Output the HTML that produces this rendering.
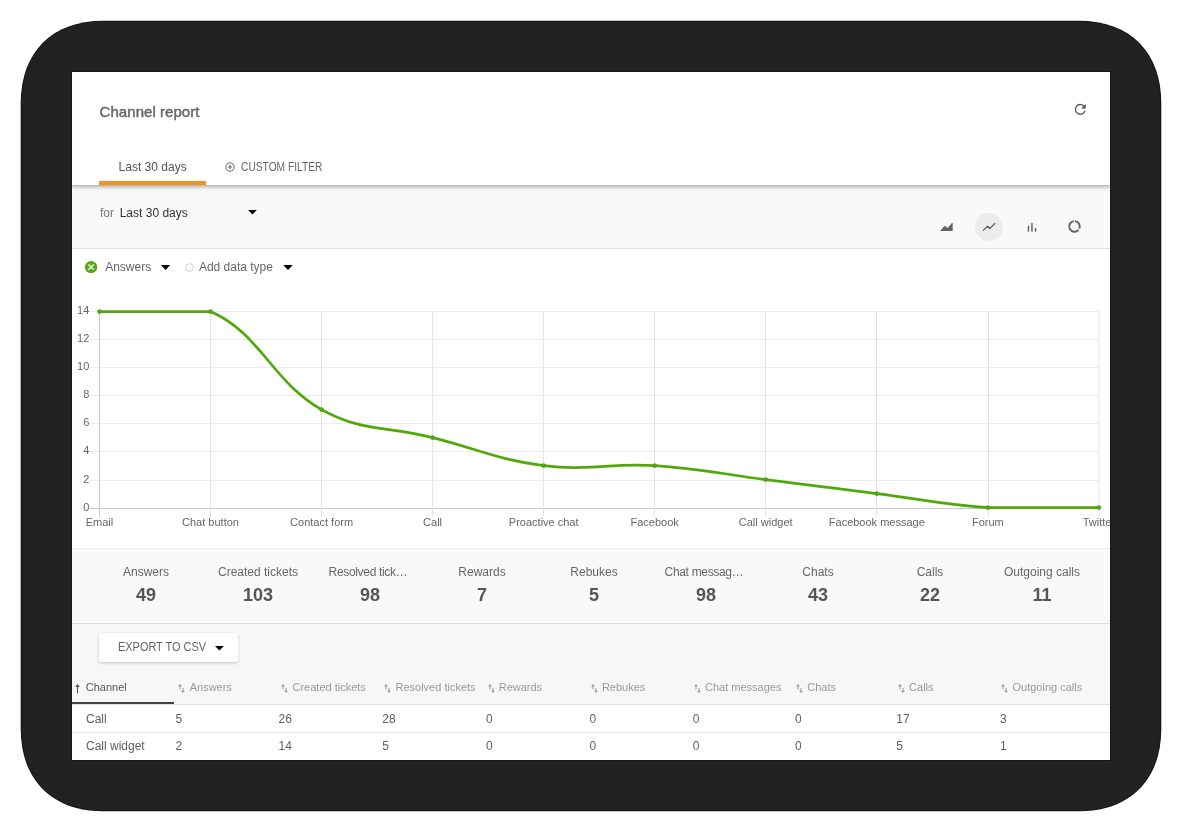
<!DOCTYPE html>
<html><head><meta charset="utf-8">
<style>
*{box-sizing:border-box;margin:0;padding:0}
html,body{width:1182px;height:832px;background:#fff;overflow:hidden;font-family:"Liberation Sans",sans-serif}
#screen{position:absolute;left:72px;top:72px;width:1038px;height:688px;background:#fff;overflow:hidden;will-change:transform}
.a{position:absolute;white-space:nowrap;line-height:1}
#hdr{position:absolute;left:0;top:0;width:1038px;height:113px;background:#fff;z-index:2;box-shadow:0 1px 0 rgba(0,0,0,.04), 0 2px 4px rgba(0,0,0,.3)}
#title{left:27.6px;top:32px;font-size:15px;color:#666;-webkit-text-stroke:0.45px #666;letter-spacing:0.05px}
#tab1{left:46.6px;top:89px;font-size:12px;color:#555}
#tabline{position:absolute;left:27px;top:109px;width:107px;height:4px;background:#f5901a}
#tab2{left:168.6px;top:88.8px;font-size:12px;color:#666;transform:scaleX(0.852);transform-origin:0 0}
#filt{position:absolute;left:0;top:113px;width:1038px;height:64px;background:#f9f9f9;border-bottom:1px solid #e0e0e0}
#stats{position:absolute;left:0;top:476px;width:1038px;height:76px;background:#f9f9f9;border-top:1px solid #ebebeb;border-bottom:1px solid #dcdcdc;box-shadow:inset 0 -1px 0 #fdfdfd}
#lower{position:absolute;left:0;top:552px;width:1038px;height:81px;background:#f7f7f7;border-bottom:1px solid #e0e0e0}
.sl{position:absolute;width:112px;text-align:center;font-size:12px;color:#666;top:492px;padding:0 15px;overflow:hidden;text-overflow:ellipsis;white-space:nowrap;line-height:16px}
.sv{position:absolute;width:112px;text-align:center;font-size:18px;font-weight:bold;color:#555;top:514px;line-height:18px}
#btn{position:absolute;left:27px;top:561px;width:139px;height:29px;background:#fff;border-radius:2px;box-shadow:0 1px 3px rgba(0,0,0,.2)}
.th{position:absolute;top:610px;font-size:11px;color:#999;line-height:11px;white-space:nowrap}
.td{position:absolute;font-size:12px;color:#606060;line-height:12px;white-space:nowrap}
.tri{position:absolute;width:0;height:0;border-left:4.5px solid transparent;border-right:4.5px solid transparent;border-top:5px solid #111}
</style></head><body>
<svg id="frame" style="position:absolute;left:0;top:0" width="1182" height="832" viewBox="0 0 1182 832"><path d="M103.20,20.70 H1078.80 C1129.95,20.70 1161.30,52.05 1161.30,103.20 V728.80 C1161.30,779.95 1129.95,811.30 1078.80,811.30 H103.20 C52.05,811.30 20.70,779.95 20.70,728.80 V103.20 C20.70,52.05 52.05,20.70 103.20,20.70 Z" fill="#151515"/><path d="M103.20,21.70 H1078.80 C1129.33,21.70 1160.30,52.67 1160.30,103.20 V728.80 C1160.30,779.33 1129.33,810.30 1078.80,810.30 H103.20 C52.67,810.30 21.70,779.33 21.70,728.80 V103.20 C21.70,52.67 52.67,21.70 103.20,21.70 Z" fill="#222"/><rect x="71" y="71" width="1040" height="690" fill="#151515"/></svg>
<div id="screen">
  <div id="hdr">
    <div class="a" id="title">Channel report</div>
    <svg style="position:absolute;left:1000.4px;top:29.2px" width="16.6" height="16.6" viewBox="0 0 24 24"><path fill="#555" d="M17.65 6.35A7.958 7.958 0 0 0 12 4a8 8 0 1 0 7.73 10h-2.08A6 6 0 1 1 12 6c1.66 0 3.14.69 4.22 1.78L13 11h7V4l-2.35 2.35z"/></svg>
    <div class="a" id="tab1">Last 30 days</div>
    <div id="tabline"></div>
    <svg style="position:absolute;left:152.5px;top:89.5px" width="10" height="10" viewBox="0 0 10 10"><circle cx="5" cy="5" r="4.2" fill="none" stroke="#666" stroke-width="1"/><path d="M2.8 5 H7.2 M5 2.8 V7.2" stroke="#666" stroke-width="1.1"/></svg>
    <div class="a" id="tab2">CUSTOM FILTER</div>
  </div>
  <div id="filt"></div>
  <div class="a" style="left:27.9px;top:135.3px;font-size:12px;color:#777">for</div>
  <div class="a" style="left:47.7px;top:135.3px;font-size:12px;color:#333">Last 30 days</div>
  <!-- chart type icons -->
  <svg style="position:absolute;left:860px;top:140px" width="160" height="30" viewBox="0 0 160 30">
    <path d="M8.1 19.1 L12.6 13.8 L15.7 16.1 L19.9 11.1 L20.7 11.1 L20.7 19.1 Z" fill="#636363"/>
    <circle cx="57" cy="15" r="13.9" fill="#ececec"/>
    <path d="M51.3 18.4 L55.6 14.2 L57.9 16.5 L62.9 11.4" fill="none" stroke="#636363" stroke-width="1.3" stroke-linecap="round" stroke-linejoin="round"/>
    <rect x="95.7" y="13.7" width="1.5" height="5.9" fill="#636363"/>
    <rect x="99.2" y="11" width="1.5" height="8.6" fill="#636363"/>
    <rect x="102.8" y="16" width="1.5" height="3.6" fill="#636363"/>
    <g fill="none" stroke="#636363" stroke-width="2">
    <path d="M143.0 9.13 A5.3 5.3 0 0 1 147.29 16.56"/>
    <path d="M146.51 17.81 A5.3 5.3 0 1 1 141.9 9.13"/>
    </g>
  </svg>
  <!-- legend -->
  <svg style="position:absolute;left:12.9px;top:188.9px" width="13" height="13" viewBox="0 0 13 13"><circle cx="6.1" cy="6.15" r="6.15" fill="#55ab12"/><path d="M3.4 3.5 L8.8 8.8 M8.8 3.5 L3.4 8.8" stroke="#fff" stroke-width="1.25"/></svg>
  <div class="a" style="left:33.2px;top:189px;font-size:12px;color:#666">Answers</div>
  <svg style="position:absolute;left:112.5px;top:191px" width="9" height="9" viewBox="0 0 9 9"><circle cx="4.5" cy="4.5" r="3.9" fill="#fff" stroke="#ccc" stroke-width="0.9"/></svg>
  <div class="a" style="left:126.9px;top:189px;font-size:12px;color:#666">Add data type</div>
  <!-- chart -->
  <svg id="chart" style="position:absolute;left:-72px;top:-72px" width="1182" height="832" viewBox="0 0 1182 832">
    <line x1="89.5" y1="508.5" x2="1098.9" y2="508.5" stroke="#c9c9c9" stroke-width="1"/>
<text x="89.3" y="510.7" text-anchor="end" font-size="11" fill="#666">0</text>
<line x1="89.5" y1="480.5" x2="1098.9" y2="480.5" stroke="#ececec" stroke-width="1"/>
<text x="89.3" y="482.7" text-anchor="end" font-size="11" fill="#666">2</text>
<line x1="89.5" y1="451.5" x2="1098.9" y2="451.5" stroke="#ececec" stroke-width="1"/>
<text x="89.3" y="453.7" text-anchor="end" font-size="11" fill="#666">4</text>
<line x1="89.5" y1="423.5" x2="1098.9" y2="423.5" stroke="#ececec" stroke-width="1"/>
<text x="89.3" y="425.7" text-anchor="end" font-size="11" fill="#666">6</text>
<line x1="89.5" y1="395.5" x2="1098.9" y2="395.5" stroke="#ececec" stroke-width="1"/>
<text x="89.3" y="397.7" text-anchor="end" font-size="11" fill="#666">8</text>
<line x1="89.5" y1="367.5" x2="1098.9" y2="367.5" stroke="#ececec" stroke-width="1"/>
<text x="89.3" y="369.7" text-anchor="end" font-size="11" fill="#666">10</text>
<line x1="89.5" y1="339.5" x2="1098.9" y2="339.5" stroke="#ececec" stroke-width="1"/>
<text x="89.3" y="341.7" text-anchor="end" font-size="11" fill="#666">12</text>
<line x1="89.5" y1="311.5" x2="1098.9" y2="311.5" stroke="#ececec" stroke-width="1"/>
<text x="89.3" y="313.7" text-anchor="end" font-size="11" fill="#666">14</text>
<line x1="99.50" y1="311" x2="99.50" y2="517" stroke="#c9c9c9" stroke-width="1"/>
<text x="99.5" y="525.6" text-anchor="middle" font-size="11" fill="#666">Email</text>
<line x1="210.50" y1="311" x2="210.50" y2="517" stroke="#e4e4e4" stroke-width="1"/>
<text x="210.5" y="525.6" text-anchor="middle" font-size="11" fill="#666">Chat button</text>
<line x1="321.50" y1="311" x2="321.50" y2="517" stroke="#e4e4e4" stroke-width="1"/>
<text x="321.6" y="525.6" text-anchor="middle" font-size="11" fill="#666">Contact form</text>
<line x1="432.50" y1="311" x2="432.50" y2="517" stroke="#e4e4e4" stroke-width="1"/>
<text x="432.6" y="525.6" text-anchor="middle" font-size="11" fill="#666">Call</text>
<line x1="543.50" y1="311" x2="543.50" y2="517" stroke="#e4e4e4" stroke-width="1"/>
<text x="543.7" y="525.6" text-anchor="middle" font-size="11" fill="#666">Proactive chat</text>
<line x1="654.50" y1="311" x2="654.50" y2="517" stroke="#e4e4e4" stroke-width="1"/>
<text x="654.7" y="525.6" text-anchor="middle" font-size="11" fill="#666">Facebook</text>
<line x1="765.50" y1="311" x2="765.50" y2="517" stroke="#e4e4e4" stroke-width="1"/>
<text x="765.7" y="525.6" text-anchor="middle" font-size="11" fill="#666">Call widget</text>
<line x1="876.50" y1="311" x2="876.50" y2="517" stroke="#e4e4e4" stroke-width="1"/>
<text x="876.8" y="525.6" text-anchor="middle" font-size="11" fill="#666">Facebook message</text>
<line x1="988.50" y1="311" x2="988.50" y2="517" stroke="#e4e4e4" stroke-width="1"/>
<text x="987.8" y="525.6" text-anchor="middle" font-size="11" fill="#666">Forum</text>
<line x1="1098.90" y1="311" x2="1098.90" y2="517" stroke="#e4e4e4" stroke-width="1"/>
<text x="1098.9" y="525.6" text-anchor="middle" font-size="11" fill="#666">Twitter</text>
<path d="M99.50,311.60 C99.50,311.60 172.48,311.60 210.54,311.60 C261.31,334.00 271.48,381.18 321.58,409.60 C360.32,431.58 388.20,426.40 432.62,437.60 C477.04,448.80 498.56,459.91 543.66,465.60 C587.39,471.11 610.46,462.81 654.70,465.60 C699.29,468.41 721.32,474.00 765.74,479.60 C810.16,485.20 832.36,488.00 876.78,493.60 C921.20,499.20 943.23,504.79 987.82,507.60 C1032.06,507.60 1098.86,507.60 1098.86,507.60" fill="none" stroke="#51a80b" stroke-width="2.7"/>
<circle cx="99.50" cy="311.60" r="1.9" fill="#56ad10" stroke="#4a9612" stroke-width="0.9"/>
<circle cx="210.54" cy="311.60" r="1.9" fill="#56ad10" stroke="#4a9612" stroke-width="0.9"/>
<circle cx="321.58" cy="409.60" r="1.9" fill="#56ad10" stroke="#4a9612" stroke-width="0.9"/>
<circle cx="432.62" cy="437.60" r="1.9" fill="#56ad10" stroke="#4a9612" stroke-width="0.9"/>
<circle cx="543.66" cy="465.60" r="1.9" fill="#56ad10" stroke="#4a9612" stroke-width="0.9"/>
<circle cx="654.70" cy="465.60" r="1.9" fill="#56ad10" stroke="#4a9612" stroke-width="0.9"/>
<circle cx="765.74" cy="479.60" r="1.9" fill="#56ad10" stroke="#4a9612" stroke-width="0.9"/>
<circle cx="876.78" cy="493.60" r="1.9" fill="#56ad10" stroke="#4a9612" stroke-width="0.9"/>
<circle cx="987.82" cy="507.60" r="1.9" fill="#56ad10" stroke="#4a9612" stroke-width="0.9"/>
<circle cx="1098.86" cy="507.60" r="1.9" fill="#56ad10" stroke="#4a9612" stroke-width="0.9"/>
  </svg>
  <!-- stats -->
  <div id="stats"></div>
  <div class="sl" style="left:18px">Answers</div>
<div class="sv" style="left:18px">49</div>
<div class="sl" style="left:130px">Created tickets</div>
<div class="sv" style="left:130px">103</div>
<div class="sl" style="left:256.6px;width:auto;padding:0;text-align:left;letter-spacing:-0.33px">Resolved tick…</div>
<div class="sv" style="left:242px">98</div>
<div class="sl" style="left:354px">Rewards</div>
<div class="sv" style="left:354px">7</div>
<div class="sl" style="left:466px">Rebukes</div>
<div class="sv" style="left:466px">5</div>
<div class="sl" style="left:592.6px;width:auto;padding:0;text-align:left;letter-spacing:-0.33px">Chat messag…</div>
<div class="sv" style="left:578px">98</div>
<div class="sl" style="left:690px">Chats</div>
<div class="sv" style="left:690px">43</div>
<div class="sl" style="left:802px">Calls</div>
<div class="sv" style="left:802px">22</div>
<div class="sl" style="left:914px">Outgoing calls</div>
<div class="sv" style="left:914px">11</div>
  <div id="lower"></div>
  <div id="btn"></div>
  <div class="a" style="left:46.2px;top:568.7px;font-size:12px;color:#666;transform:scaleX(0.912);transform-origin:0 0">EXPORT TO CSV</div>
  <div style="position:absolute;left:0;top:629.6px;width:102px;height:2.2px;background:#444"></div>
  <svg style="position:absolute;left:3px;top:611.8px" width="6" height="10" viewBox="0 0 6 10"><path d="M2.5 1.5 V9.2" stroke="#505050" stroke-width="1"/><path d="M0.2 2.9 L2.5 0 L4.8 2.9 Z" fill="#505050"/></svg>
<div class="th" style="left:13.8px;color:#555">Channel</div>
<svg style="position:absolute;left:104.5px;top:611.8px" width="10" height="10" viewBox="-1 0 10 10"><path d="M2 1.2 V5.3 M5 4 V7.8" stroke="#999" stroke-width="1"/><path d="M0 2.3 L2 0 L4 2.3 Z M3 6.8 L5 9.1 L7 6.8 Z" fill="#999"/></svg>
<div class="th" style="left:117.7px">Answers</div>
<svg style="position:absolute;left:207.5px;top:611.8px" width="10" height="10" viewBox="-1 0 10 10"><path d="M2 1.2 V5.3 M5 4 V7.8" stroke="#999" stroke-width="1"/><path d="M0 2.3 L2 0 L4 2.3 Z M3 6.8 L5 9.1 L7 6.8 Z" fill="#999"/></svg>
<div class="th" style="left:220.5px">Created tickets</div>
<svg style="position:absolute;left:310.5px;top:611.8px" width="10" height="10" viewBox="-1 0 10 10"><path d="M2 1.2 V5.3 M5 4 V7.8" stroke="#999" stroke-width="1"/><path d="M0 2.3 L2 0 L4 2.3 Z M3 6.8 L5 9.1 L7 6.8 Z" fill="#999"/></svg>
<div class="th" style="left:323.5px">Resolved tickets</div>
<svg style="position:absolute;left:414.5px;top:611.8px" width="10" height="10" viewBox="-1 0 10 10"><path d="M2 1.2 V5.3 M5 4 V7.8" stroke="#999" stroke-width="1"/><path d="M0 2.3 L2 0 L4 2.3 Z M3 6.8 L5 9.1 L7 6.8 Z" fill="#999"/></svg>
<div class="th" style="left:426.7px">Rewards</div>
<svg style="position:absolute;left:517.5px;top:611.8px" width="10" height="10" viewBox="-1 0 10 10"><path d="M2 1.2 V5.3 M5 4 V7.8" stroke="#999" stroke-width="1"/><path d="M0 2.3 L2 0 L4 2.3 Z M3 6.8 L5 9.1 L7 6.8 Z" fill="#999"/></svg>
<div class="th" style="left:529.9px">Rebukes</div>
<svg style="position:absolute;left:620.5px;top:611.8px" width="10" height="10" viewBox="-1 0 10 10"><path d="M2 1.2 V5.3 M5 4 V7.8" stroke="#999" stroke-width="1"/><path d="M0 2.3 L2 0 L4 2.3 Z M3 6.8 L5 9.1 L7 6.8 Z" fill="#999"/></svg>
<div class="th" style="left:633.0px">Chat messages</div>
<svg style="position:absolute;left:722.5px;top:611.8px" width="10" height="10" viewBox="-1 0 10 10"><path d="M2 1.2 V5.3 M5 4 V7.8" stroke="#999" stroke-width="1"/><path d="M0 2.3 L2 0 L4 2.3 Z M3 6.8 L5 9.1 L7 6.8 Z" fill="#999"/></svg>
<div class="th" style="left:735.3px">Chats</div>
<svg style="position:absolute;left:824.5px;top:611.8px" width="10" height="10" viewBox="-1 0 10 10"><path d="M2 1.2 V5.3 M5 4 V7.8" stroke="#999" stroke-width="1"/><path d="M0 2.3 L2 0 L4 2.3 Z M3 6.8 L5 9.1 L7 6.8 Z" fill="#999"/></svg>
<div class="th" style="left:837.1px">Calls</div>
<svg style="position:absolute;left:927.5px;top:611.8px" width="10" height="10" viewBox="-1 0 10 10"><path d="M2 1.2 V5.3 M5 4 V7.8" stroke="#999" stroke-width="1"/><path d="M0 2.3 L2 0 L4 2.3 Z M3 6.8 L5 9.1 L7 6.8 Z" fill="#999"/></svg>
<div class="th" style="left:940.5px">Outgoing calls</div>
<div style="position:absolute;left:0;top:660px;width:1038px;height:1px;background:#e8e8e8"></div>
<div class="td" style="left:14.0px;top:640.5px">Call</div>
<div class="td" style="left:103.5px;top:640.5px">5</div>
<div class="td" style="left:206.5px;top:640.5px">26</div>
<div class="td" style="left:310.3px;top:640.5px">28</div>
<div class="td" style="left:414.1px;top:640.5px">0</div>
<div class="td" style="left:517.6px;top:640.5px">0</div>
<div class="td" style="left:620.7px;top:640.5px">0</div>
<div class="td" style="left:722.9px;top:640.5px">0</div>
<div class="td" style="left:824.3px;top:640.5px">17</div>
<div class="td" style="left:927.9px;top:640.5px">3</div>
<div class="td" style="left:14.0px;top:668.0px">Call widget</div>
<div class="td" style="left:103.5px;top:668.0px">2</div>
<div class="td" style="left:206.5px;top:668.0px">14</div>
<div class="td" style="left:310.3px;top:668.0px">5</div>
<div class="td" style="left:414.1px;top:668.0px">0</div>
<div class="td" style="left:517.6px;top:668.0px">0</div>
<div class="td" style="left:620.7px;top:668.0px">0</div>
<div class="td" style="left:722.9px;top:668.0px">0</div>
<div class="td" style="left:824.3px;top:668.0px">5</div>
<div class="td" style="left:927.9px;top:668.0px">1</div>
  <svg style="position:absolute;left:-72px;top:-72px;pointer-events:none" width="1182" height="832" viewBox="0 0 1182 832">
    <path d="M248.1 210 H256.8 L252.45 214.6 Z M160.9 265 H170.2 L165.55 269.9 Z M283.2 265 H292.8 L288 269.9 Z M215 646 H223.9 L219.45 650.4 Z" fill="#000"/>
  </svg>
</div>
</body></html>
